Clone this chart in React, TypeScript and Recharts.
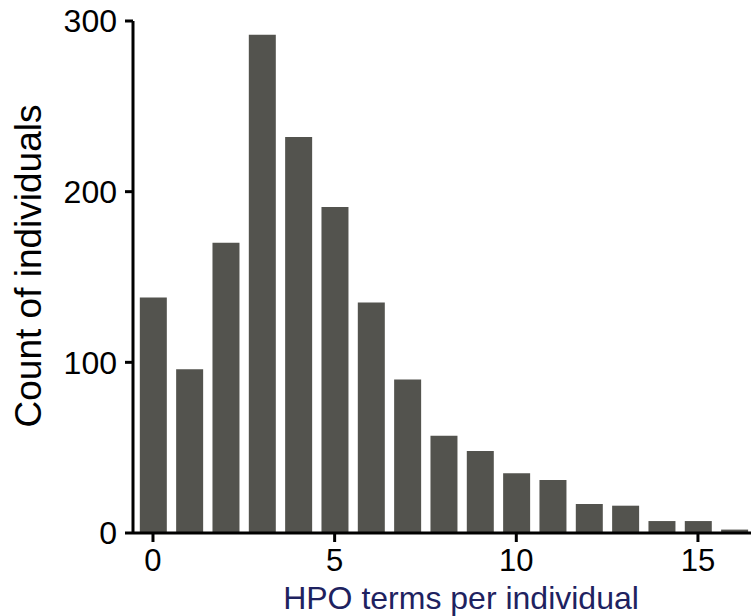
import { Bar, BarChart, XAxis, YAxis } from 'recharts';

const terms = [0, 1, 2, 3, 4, 5, 6, 7, 8, 9, 10, 11, 12, 13, 14, 15, 16];
const counts = [138, 96, 170, 292, 232, 191, 135, 90, 57, 48, 35, 31, 17, 16, 7, 7, 2];
const xTicks = [0, 5, 10, 15];
const yTicks = [0, 100, 200, 300];

const data = terms.map((t, i) => ({ terms: t, count: counts[i] }));

const font = '"Liberation Sans", Arial, sans-serif';

const YLabel = () => (
  <text
    x={28}
    y={266}
    transform="rotate(-90, 28, 266)"
    textAnchor="middle"
    dominantBaseline="central"
    fontSize={37}
    fontFamily={font}
    fill="#000"
  >
    Count of individuals
  </text>
);

const XLabel = () => (
  <text x={461} y={609} textAnchor="middle" fontSize={32} fontFamily={font} fill="#1e2260">
    HPO terms per individual
  </text>
);

const App = () => {
  return (
    <div style={{ position: 'absolute', left: 0, top: 0, background: '#fff' }}>
      <BarChart width={751} height={616} data={data} margin={{ top: 21, right: 0, left: 0, bottom: 0 }}>
        <XAxis
          dataKey="terms"
          type="number"
          domain={[-0.55, 16.46]}
          allowDataOverflow
          ticks={xTicks}
          height={83}
          stroke="#000"
          strokeWidth={3}
          tickSize={9}
          tickMargin={7}
          tick={{ fill: '#000', fontSize: 31, fontFamily: font }}
          label={<XLabel />}
        />
        <YAxis
          domain={[0, 300]}
          ticks={yTicks}
          width={133}
          stroke="#000"
          strokeWidth={3}
          tickSize={8}
          tickMargin={8}
          tick={{ fill: '#000', fontSize: 32, fontFamily: font }}
          label={<YLabel />}
        />
        <Bar dataKey="count" fill="#53534e" barSize={27} isAnimationActive={false} />
      </BarChart>
    </div>
  );
};

export default App;
